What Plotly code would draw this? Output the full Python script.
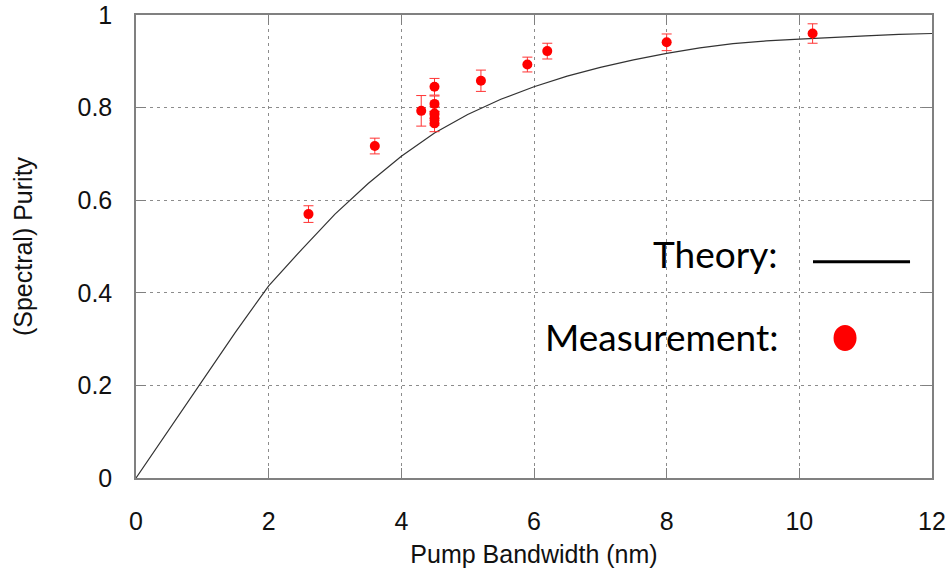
import plotly.graph_objects as go

# Theory curve: purity vs pump bandwidth
theory_bw = [0, 0.5, 1, 1.5, 2, 2.5, 3, 3.5, 4, 4.5, 5, 5.5, 6, 6.5, 7, 7.5,
             8, 8.5, 9, 9.5, 10, 10.5, 11, 11.5, 12]
theory_purity = [0, 0.105, 0.21, 0.315, 0.415, 0.494, 0.57, 0.636, 0.695, 0.745,
                 0.785, 0.818, 0.845, 0.868, 0.887, 0.903, 0.917, 0.929, 0.938,
                 0.944, 0.948, 0.952, 0.955, 0.958, 0.96]

# Measured purities with error bars
meas_bw = [2.6, 3.6, 4.3, 4.5, 4.5, 4.5, 4.5, 4.5, 5.2, 5.9, 6.2, 8.0, 10.2]
meas_purity = [0.570, 0.717, 0.793, 0.845, 0.808, 0.787, 0.777, 0.766,
               0.858, 0.893, 0.922, 0.941, 0.960]
meas_err = [0.018, 0.017, 0.033, 0.018, 0.017, 0.015, 0.015, 0.018,
            0.023, 0.016, 0.017, 0.018, 0.021]

x_ticks = [0, 2, 4, 6, 8, 10, 12]
y_ticks = [0, 0.2, 0.4, 0.6, 0.8, 1]
y_tick_text = ["0", "0.2", "0.4", "0.6", "0.8", "1"]

fig = go.Figure()
fig.add_trace(go.Scatter(
    x=theory_bw, y=theory_purity, mode="lines",
    line=dict(color="#333333", width=1.2), showlegend=False))
fig.add_trace(go.Scatter(
    x=meas_bw, y=meas_purity, mode="markers",
    marker=dict(color="#ff0000", size=10),
    error_y=dict(type="data", array=meas_err, color="#ff3333",
                 thickness=1, width=5),
    showlegend=False))

axis_font = dict(family="Liberation Sans, Arial", size=25, color="#111111")
common = dict(
    showline=True, linecolor="#808080", linewidth=1.5, mirror="ticks",
    ticks="inside", ticklen=10, tickcolor="#808080", tickwidth=1.2,
    showgrid=True, gridcolor="#8c8c8c", gridwidth=1, griddash="3px,4px",
    zeroline=False, tickfont=axis_font, automargin=False,
)

fig.update_xaxes(range=[0, 12], tickvals=x_ticks, ticklabelstandoff=20,
                 title=dict(text="Pump Bandwidth (nm)", font=axis_font,
                            standoff=12),
                 **common)
fig.update_yaxes(range=[0, 1], tickvals=y_ticks, ticktext=y_tick_text,
                 ticklabelstandoff=17,
                 title=dict(text="(Spectral) Purity", font=axis_font,
                            standoff=38),
                 **common)

# Hand-drawn key on the right side
key_font = dict(family="Lato, Carlito, sans-serif", size=37, color="#000000")
fig.add_annotation(xref="paper", yref="paper", x=0.809, y=0.485,
                   xanchor="right", yanchor="middle", text="Theory:",
                   showarrow=False, font=key_font)
fig.add_annotation(xref="paper", yref="paper", x=0.809, y=0.306,
                   xanchor="right", yanchor="middle", text="Measurement:",
                   showarrow=False, font=key_font)
fig.add_shape(type="line", xref="paper", yref="paper",
              x0=0.8505, x1=0.9724, y0=0.4672, y1=0.4672,
              line=dict(color="#000000", width=3))
fig.add_shape(type="circle", xref="paper", yref="paper",
              x0=0.8763, x1=0.9052, y0=0.2743, y1=0.3305,
              fillcolor="#ff0000", line=dict(color="#ff0000", width=0))

fig.update_layout(
    width=950, height=569,
    margin=dict(l=136, r=18, t=15, b=91),
    plot_bgcolor="white", paper_bgcolor="white",
)

fig.write_html("out.html")
